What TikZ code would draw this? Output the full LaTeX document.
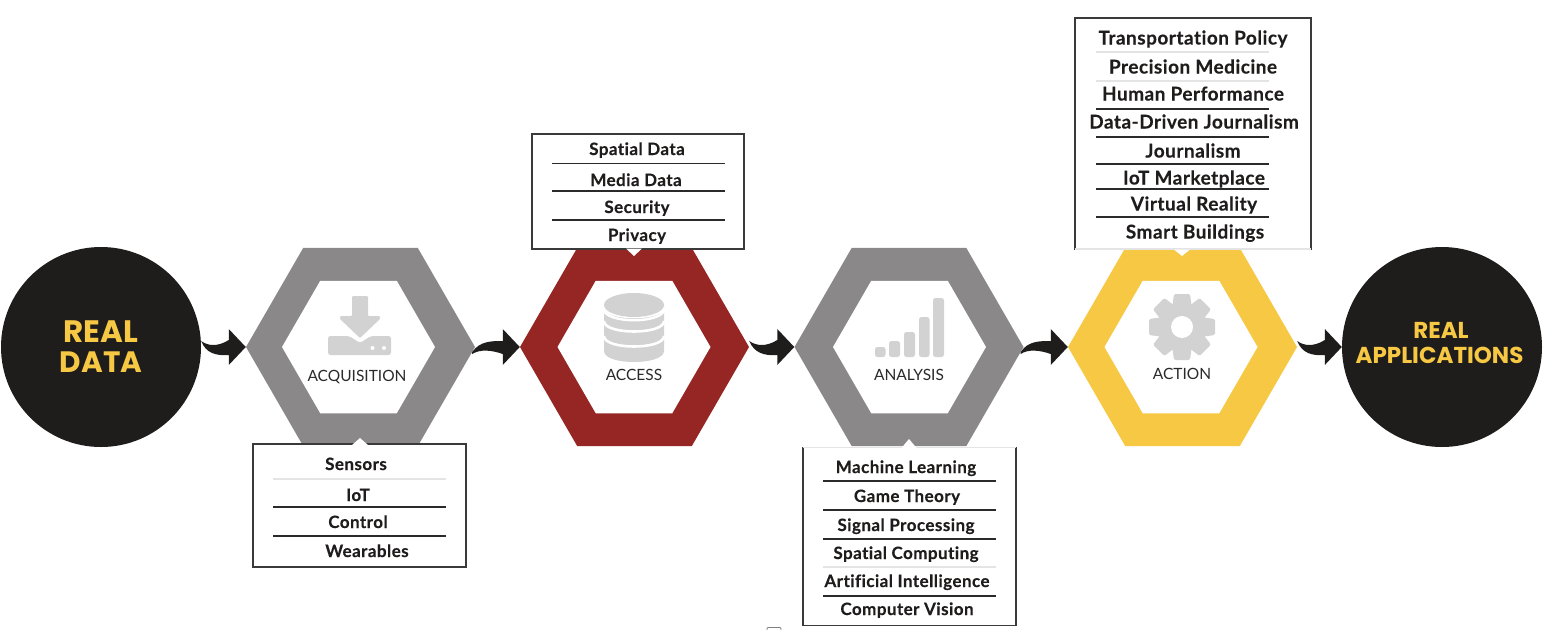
\documentclass[tikz,border=0pt]{standalone}
\usepackage{fontspec}
\setmainfont{Lato}
\newfontfamily\headfont{Poppins}
\newfontfamily\itemfont[LetterSpace=2.6,Ligatures=NoCommon,BoldFeatures={FakeBold=0.25}]{Lato}
\usetikzlibrary{shapes.geometric,calc}
\definecolor{inkblack}{HTML}{1F1C1C}
\definecolor{hexgray}{HTML}{8A8888}
\definecolor{hexred}{HTML}{952624}
\definecolor{hexyellow}{HTML}{F7C843}
\definecolor{icongray}{HTML}{D2D2D2}
\definecolor{framegray}{HTML}{3A3A3A}
\definecolor{ruleblack}{HTML}{2A2A2A}
\definecolor{rulelight}{HTML}{E4E4E4}
\tikzset{
  outerhex/.style={regular polygon,regular polygon sides=6,minimum size=229,inner sep=0pt,fill=#1},
  innerhex/.style={regular polygon,regular polygon sides=6,minimum size=153,inner sep=0pt,fill=white},
  bigdot/.style={circle,minimum size=200,inner sep=0pt,fill=inkblack},
  headlab/.style={text=hexyellow,inner sep=0pt,anchor=base},
  hexlabel/.style={font=\fontsize{15.5}{18}\selectfont,text=ruleblack,inner sep=0pt,anchor=base,yshift=-5.5pt},
  listbox/.style={draw=framegray,line width=1.3,fill=white,inner sep=0pt},
  item/.style={font=\itemfont\bfseries\fontsize{17}{20}\selectfont,text=inkblack,inner sep=0pt,anchor=base,yshift=-6pt},
  bigitem/.style={font=\itemfont\bfseries\fontsize{19}{20}\selectfont,text=inkblack,inner sep=0pt,anchor=base,yshift=-6.5pt},
  rulek/.style={draw=ruleblack,line width=1.1},
  rulel/.style={draw=rulelight,line width=1.3},
  icon/.style={fill=icongray,draw=none},
  swoosh/.style={fill=inkblack,draw=none}
}
\newcommand{\swooshdown}[2]{%
  \fill[swoosh] ($(#1.east)+(0,-6)$) .. controls ($(#2.west)+(-38,-1)$) and ($(#2.west)+(-28,0)$) .. ($(#2.west)+(-17,-7)$)
    -- ($(#2.west)+(-17,-18)$) -- (#2.west) -- ($(#2.west)+(-17,18)$) -- ($(#2.west)+(-17,8)$)
    .. controls ($(#2.west)+(-30,9)$) and ($(#2.west)+(-40,6)$) .. cycle;}
\newcommand{\swooshup}[2]{%
  \fill[swoosh] ($(#1.east)+(-3,5)$) .. controls ($(#2.west)+(-40,-6)$) and ($(#2.west)+(-28,-6)$) .. ($(#2.west)+(-17,-6)$)
    -- ($(#2.west)+(-17,-18)$) -- (#2.west) -- ($(#2.west)+(-17,18)$) -- ($(#2.west)+(-17,7)$)
    .. controls ($(#2.west)+(-28,3)$) and ($(#2.west)+(-40,2)$) .. ($(#1.east)+(-3,7)$) -- cycle;}
\begin{document}
\begin{tikzpicture}[x=1pt,y=-1pt]
\useasboundingbox (0,0) rectangle (1548,630);
% circles
\node[bigdot] (real) at (101,347) {};
\node[bigdot] (apps) at (1442,347) {};
\node[headlab,font=\headfont\bfseries\fontsize{31}{30}\selectfont] (realone) at (101,342) {REAL};
\node[headlab,font=\headfont\bfseries\fontsize{29.5}{30}\selectfont] (realtwo) at (101,372) {DATA};
\node[headlab,font=\headfont\bfseries\fontsize{23}{25}\selectfont] (appsone) at (1441,338) {REAL};
\node[headlab,font=\headfont\bfseries\fontsize{23}{25}\selectfont] (appstwo) at (1439.5,363) {APPLICATIONS};
% hexagons
\node[outerhex=hexgray] (acq) at (360.5,347) {};
\node[innerhex] (acqin) at (358.5,347) {};
\node[outerhex=hexred] (acc) at (634.5,347) {};
\node[innerhex] (accin) at (634,347) {};
\node[outerhex=hexgray] (ana) at (909,347) {};
\node[innerhex] (anain) at (909.5,347) {};
\node[outerhex=hexyellow] (act) at (1182.5,347) {};
\node[innerhex] (actin) at (1181,347) {};
% connectors
\swooshdown{real}{acq}
\swooshup{acq}{acc}
\swooshdown{acc}{ana}
\swooshup{ana}{act}
\swooshdown{act}{apps}
% hex labels
\node[hexlabel] (acqlab) at (357,376) {ACQUISITION};
\node[hexlabel] (acclab) at (634,375) {ACCESS};
\node[hexlabel] (analab) at (909,375) {ANALYSIS};
\node[hexlabel] (actlab) at (1182,374) {ACTION};
% acquisition icon
\path[icon,rounded corners=2.5] (328,336) -- (349,336) -- (360,343) -- (371,336) -- (391,336) -- (391,355) -- (328,355) -- cycle;
\path[icon,rounded corners=1] (352,296) -- (368,296) -- (368,316) -- (380,316) -- (380,319) -- (360,338) -- (340,319) -- (340,316) -- (352,316) -- cycle;
\fill[white] (372.5,348) circle (2) (384,348) circle (2);
% access icon
\path[icon] (604,305) -- (604,351) .. controls (604,365.7) and (664,365.7) .. (664,351) -- (664,305) -- cycle;
\draw[white,line width=2.6] (604,321) .. controls (604,335) and (664,335) .. (664,321);
\draw[white,line width=2.6] (604,336) .. controls (604,350) and (664,350) .. (664,336);
\fill[white] (604,305) -- (604,310) .. controls (610,321) and (658,321) .. (664,310) -- (664,305) -- cycle;
\path[icon] (634,305) ellipse [x radius=30,y radius=12];
\draw[white,line width=2.4] (603,309) .. controls (606,324) and (662,324) .. (665,309);
% analysis icon
\foreach \xa/\xb/\yt in {875/885.5/347,889/900/341,904/915/332,919/929.5/317,933/944/298}{
  \path[icon,rounded corners=2.5] (\xa,\yt) rectangle (\xb,357);
}
% gear icon
\foreach \ang in {0,45,...,315}{
  \begin{scope}[shift={(1182,327)},rotate=\ang]
    \path[icon,rounded corners=1.5] (-8,-33) -- (8,-33) -- (10,-18) -- (-10,-18) -- cycle;
  \end{scope}
}
\fill[icongray] (1182,327) circle (24.5);
\fill[white] (1182,327) circle (11);
% sensors box
\node[listbox,minimum width=213,minimum height=123] (sensbox) at (359.5,505.5) {};
\fill[white] (352,445) -- (360,438) -- (368,445) -- cycle;
\draw[rulel] (273,479) -- (446,479);
\draw[rulek] (273,507) -- (446,507);
\draw[rulek] (273,536) -- (446,536);
\node[item] (s1) at (356,464) {Sensors};
\node[item] (s2) at (358,495) {IoT};
\node[item] (s3) at (358,522) {Control};
\node[item] (s4) at (367,551) {Wearables};
% access box
\node[listbox,minimum width=212,minimum height=115] (accbox) at (638,191.5) {};
\fill[white] (626,248.5) -- (642,248.5) -- (634,256) -- cycle;
\draw[rulek] (552,163.5) -- (725,163.5);
\draw[rulek] (552,191) -- (725,191);
\draw[rulek] (552,220) -- (725,220);
\node[item] (c1) at (637,149) {Spatial Data};
\node[item] (c2) at (636,180) {Media Data};
\node[item] (c3) at (637,207) {Security};
\node[item] (c4) at (637,235) {Privacy};
% analysis box
\node[listbox,minimum width=213,minimum height=177.5] (anabox) at (909.5,536.5) {};
\draw[rulel,line width=1.6] (803,447.5) -- (1016,447.5);
\fill[white] (901,448.5) -- (909,439) -- (917,448.5) -- cycle;
\draw[rulek] (823,481) -- (996,481);
\draw[rulek] (823,510) -- (996,510);
\draw[rulek] (823,539) -- (996,539);
\draw[rulel] (823,567) -- (996,567);
\draw[rulek] (823,596) -- (996,596);
\node[item] (a1) at (906,467) {Machine Learning};
\node[item] (a2) at (907,496) {Game Theory};
\node[item] (a3) at (906,525) {Signal Processing};
\node[item] (a4) at (906,553) {Spatial Computing};
\node[item] (a5) at (907,581) {Artificial Intelligence};
\node[item] (a6) at (907,609) {Computer Vision};
% action box
\node[listbox,minimum width=236,minimum height=231] (actbox) at (1193,133.5) {};
\draw[rulel,line width=1.6] (1075,249) -- (1311,249);
\fill[white] (1174,249.5) -- (1190,249.5) -- (1182,256) -- cycle;
\draw[rulel] (1096,52) -- (1269,52);
\draw[rulel] (1096,81) -- (1269,81);
\draw[rulek] (1096,109) -- (1269,109);
\draw[rulek] (1096,137) -- (1269,137);
\draw[rulek] (1096,164) -- (1269,164);
\draw[rulek] (1096,189) -- (1269,189);
\draw[rulek] (1096,217) -- (1269,217);
\node[bigitem] (t1) at (1193,38) {Transportation Policy};
\node[bigitem] (t2) at (1193,67) {Precision Medicine};
\node[bigitem] (t3) at (1193,94) {Human Performance};
\node[bigitem] (t4) at (1194,122) {Data-Driven Journalism};
\node[bigitem] (t5) at (1193,151) {Journalism};
\node[bigitem] (t6) at (1194,178) {IoT Marketplace};
\node[bigitem] (t7) at (1194,204) {Virtual Reality};
\node[bigitem] (t8) at (1195,232) {Smart Buildings};
% stray mark at the page foot
\draw[gray,line width=0.8,rounded corners=1] (767,630) -- (767,627.5) -- (781,627.5) -- (781,630);
\end{tikzpicture}
\end{document}
